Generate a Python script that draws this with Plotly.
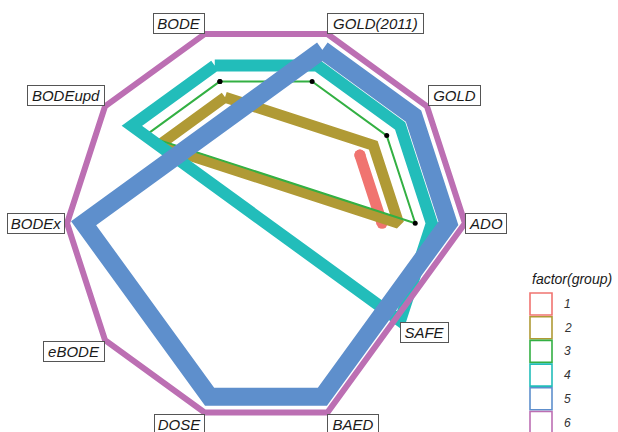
import math
import plotly.graph_objects as go

# ---------------- data ----------------
categories = ["BODE", "GOLD(2011)", "GOLD", "ADO", "SAFE",
              "BAED", "DOSE", "eBODE", "BODEx", "BODEupd"]
groups = ["1", "2", "3", "4", "5", "6"]

# value per category (None = index not present for this group)
g1 = [None, None, 7, 7, None, None, None, None, None, None]
g2 = [8, None, 8, 8, None, None, None, None, None, 8]
g3 = [9, 9, 9, 9, None, None, None, None, None, 9]
g4 = [10, 10, 10, 10, 10, None, None, None, None, 10]
g5 = [None, 11, 11, 11, None, 11, 11, None, 11, None]
g6 = [12, 12, 12, 12, None, 12, 12, 12, 12, 12]
series = [g1, g2, g3, g4, g5, g6]

# ---------------- styling ----------------
colors = ["#F07470", "#B09A35", "#33B043", "#22BDBA", "#5E8FCC", "#BC6FB3"]
widths = [11, 11, 2, 12, 18, 6]

W, H = 618, 432
CX, CY = 266.0, 223.3
UNIT = 16.58          # px per radial unit
RMAX = 12.5
RPX = RMAX * UNIT
ROT = 108             # angle of first category
FONT = "Liberation Sans, Arial, sans-serif"

fig = go.Figure()
for i, vals in enumerate(series):
    th = [c for c, v in zip(categories, vals) if v is not None]
    rr = [v for v in vals if v is not None]
    th.append(th[0])
    rr.append(rr[0])
    if i == 2:
        mode, marker = "lines+markers", dict(color="black", size=5)
    elif i == 0:
        # round caps on the short segment
        mode, marker = "lines+markers", dict(color=colors[i], size=widths[i])
    else:
        mode, marker = "lines", None
    fig.add_trace(go.Scatterpolar(
        r=rr, theta=th, mode=mode,
        line=dict(color=colors[i], width=widths[i]),
        marker=marker,
        name=groups[i], showlegend=False, hoverinfo="skip",
    ))

fig.update_layout(
    width=W, height=H,
    margin=dict(l=0, r=0, t=0, b=0),
    paper_bgcolor="white",
    showlegend=False,
    polar=dict(
        domain=dict(x=[(CX - RPX) / W, (CX + RPX) / W],
                    y=[1 - (CY + RPX) / H, 1 - (CY - RPX) / H]),
        bgcolor="white",
        radialaxis=dict(visible=False, range=[0, RMAX]),
        angularaxis=dict(type="category", categoryarray=categories,
                         categoryorder="array", direction="clockwise",
                         rotation=ROT, showgrid=False, showline=False,
                         showticklabels=False, ticks=""),
    ),
)

# ---------------- axis labels (boxed) ----------------
label_r = 12
label_box_w = [52, 97, 53, 42, 49, 52, 51, 62, 58, 78]
anchors = [("right", "bottom", 0, 0), ("left", "bottom", 0, 0),
           ("left", "bottom", 1, 0), ("left", "middle", 0, 0),
           ("center", "middle", -2, 8), ("left", "top", 0, -1),
           ("right", "top", 0, -1), ("right", "top", 0, -1),
           ("right", "middle", -2, 0), ("right", "bottom", 0, 0)]
n = len(categories)
for k, cat in enumerate(categories):
    ang = math.radians(ROT - 360.0 * k / n)
    px = CX + label_r * UNIT * math.cos(ang)
    py = CY - label_r * UNIT * math.sin(ang)
    xa, ya, xs, ys = anchors[k]
    fig.add_annotation(
        x=px / W, y=1 - py / H, xref="paper", yref="paper",
        text=cat, showarrow=False, xanchor=xa, yanchor=ya,
        xshift=xs, yshift=ys,
        width=label_box_w[k] - 4, height=17,
        font=dict(family=FONT, size=15, color="#1a1a1a", style="italic"),
        bgcolor="white", bordercolor="#555555", borderwidth=1, borderpad=1,
    )

# ---------------- legend (drawn manually) ----------------
LX0, LX1 = 530, 552
LY0, LSTEP = 304.0, 23.7
fig.add_annotation(x=LX0 / W, y=1 - 279 / H, xref="paper", yref="paper",
                   text="factor(group)", showarrow=False,
                   xanchor="left", yanchor="middle",
                   font=dict(family=FONT, size=14, color="#1a1a1a", style="italic"))
for i, g in enumerate(groups):
    yc = LY0 + i * LSTEP
    fig.add_shape(type="rect", xref="paper", yref="paper",
                  x0=LX0 / W, x1=LX1 / W,
                  y0=1 - (yc + 11) / H, y1=1 - (yc - 11) / H,
                  line=dict(color=colors[i], width=1.6), fillcolor="white")
    fig.add_annotation(x=562 / W, y=1 - yc / H, xref="paper", yref="paper",
                       text=g, showarrow=False, xanchor="left", yanchor="middle",
                       font=dict(family=FONT, size=12, color="#333333", style="italic"))

fig.write_html("out.html")
